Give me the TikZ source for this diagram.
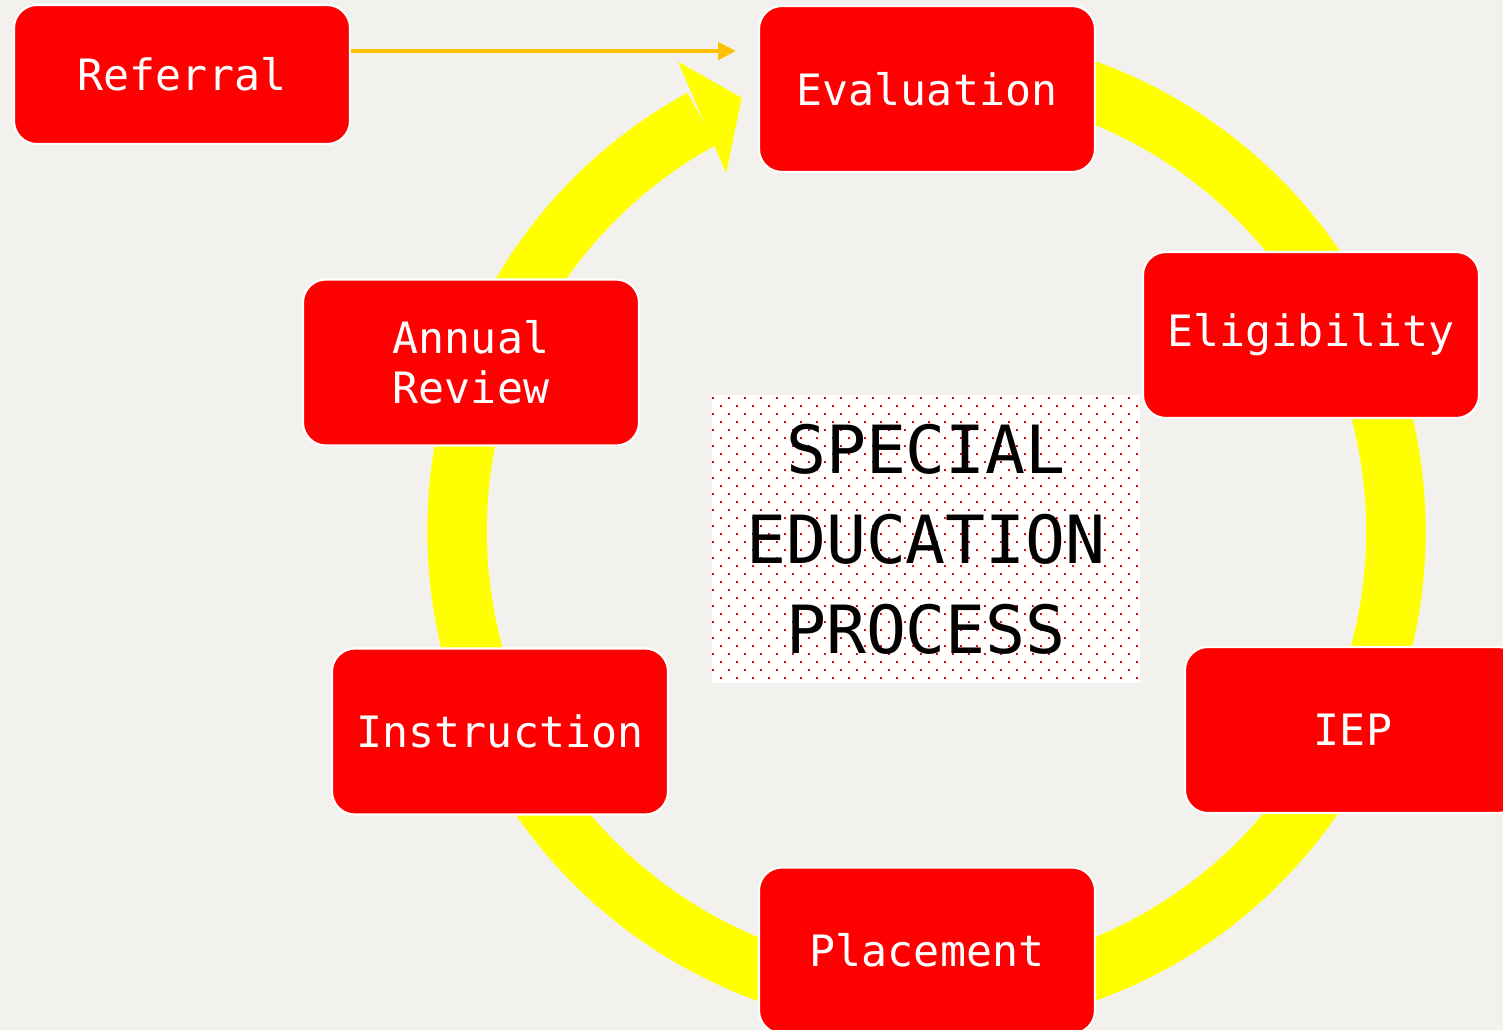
\documentclass[tikz,border=0pt]{standalone}
\usepackage{fontspec}
\setmonofont{DejaVu Sans Mono}
\usetikzlibrary{arrows.meta}

\definecolor{paper}{HTML}{F2F1ED}
\definecolor{boxred}{HTML}{FF0000}
\definecolor{ringyellow}{HTML}{FFFF00}
\definecolor{linkgold}{HTML}{FFC000}

\begin{document}
\begin{tikzpicture}[
    stage/.style={draw=white, line width=0.6pt, fill=boxred, rounded corners=0.23cm,
                  text=white, align=center, inner sep=0pt,
                  font=\ttfamily\fontsize{12.3}{14.3}\selectfont,
                  minimum width=3.36cm, minimum height=1.66cm},
    ring/.style={draw=ringyellow, line width=0.595cm},
    link/.style={draw=linkgold, line width=1.4pt, -{Triangle[length=1.8mm, width=1.7mm]}},
    panel/.style={fill=white, inner sep=0pt, minimum width=4.28cm, minimum height=2.88cm},
    hubtext/.style={align=center, font=\ttfamily\fontsize{18.9}{25.6}\selectfont}
]

% page
\fill[paper] (0,0) rectangle (15.03,-10.30);
\clip (0,0) rectangle (15.03,-10.30);

% the cycle: thick ring ending in a wide head
\coordinate (hub) at (9.265,-5.31);
\draw[ring] ([shift={(hub)}]100:4.694) arc[start angle=100, end angle=-241.4, radius=4.694];
\fill[ringyellow] ([shift={(hub)}]117.9:5.31) -- ([shift={(hub)}]113.1:4.71)
    -- ([shift={(hub)}]119.25:4.10) -- cycle;

% stages
\node[stage, minimum height=1.39cm] (referral) at (1.82,-0.745) {Referral};
\node[stage] (evaluation) at (9.27,-0.89) {Evaluation};
\node[stage] (eligibility) at (13.11,-3.35) {Eligibility};
\node[stage] (iep) at (13.53,-7.30) {IEP};
\node[stage] (placement) at (9.27,-9.505) {Placement};
\node[stage] (instruction) at (5.00,-7.315) {Instruction};
\node[stage] (review) at (4.71,-3.625) {Annual\\Review};

% referral feeds into the cycle
\coordinate (entry) at (7.36,-0.51);
\draw[link] (referral.east |- entry) -- (entry);

% dotted centre panel
\node[panel] (core) at (9.26,-5.39) {};
\begin{scope}
  \clip (core.south west) rectangle (core.north east);
  \foreach \row in {0,...,35}
    \foreach \col in {0,...,26}
      \fill[boxred] ({7.12+0.16*\col+0.08*mod(\row,2)},{-3.967-0.08*\row})
          rectangle ++(0.02,-0.02);
\end{scope}
\node[hubtext] (title) at (core) {SPECIAL\\EDUCATION\\PROCESS};

\end{tikzpicture}
\end{document}
